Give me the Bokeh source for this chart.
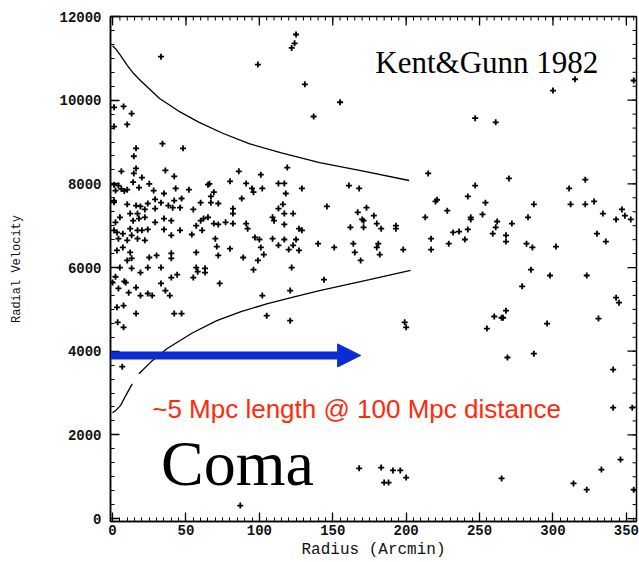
import math
from bokeh.plotting import figure
from bokeh.models import Range1d, FixedTicker, Arrow, NormalHead, Label
from bokeh.embed import file_html
from bokeh.resources import INLINE

# ---------------- data (radius in arcmin, radial velocity in km/s) ----------------
r_top = [33, 99, 125, 124, 122, 131, 137, 155, 247, 261, 300, 315, 355]
v_top = [11040, 10850, 11570, 11360, 11250, 10380, 9610, 9950, 9570, 9470, 10230, 10500, 10470]

r_b = [1, 7.5, 13, 10, 1, 34, 48, 16, 14.5, 16, 6, 14.5, 36, 42, 86, 101, 119]
v_b = [9830, 9850, 9680, 9420, 9370, 8960, 8850, 8850, 8660, 8370, 8300, 8250, 8320, 8180, 8300, 8220, 8390]

r_c = [1, 14, 20, 4, 10, 18, 25, 2, 28, 35, 43, 52, 65, 66, 80, 91, 95, 96, 102, 113, 117, 118, 129, 69, 67]
v_c = [7980, 8040, 8150, 7960, 7860, 7910, 8000, 7840, 7840, 7770, 7890, 7860, 7980, 8000, 8060, 8010, 7890, 7800,
       7890, 8010, 8010, 7770, 7890, 7800, 7700]

r_d = [60, 42, 47, 38, 33, 29, 24, 19, 16, 10, 1, 1, 88, 6, 8]
v_d = [7550, 7600, 7650, 7480, 7550, 7630, 7530, 7460, 7480, 7510, 7600, 7560, 7650, 7880, 7830]

r_e = [12, 17, 22, 29, 41, 46, 55, 67, 72, 82, 82, 109, 110, 113, 116, 117, 123]
v_e = [7290, 7290, 7390, 7410, 7430, 7430, 7390, 7550, 7530, 7410, 7290, 7200, 7120, 7410, 7510, 7290, 7290]

r_f = [2, 5, 14, 18, 22, 29, 35, 40, 60, 62, 65, 69, 72, 57, 61, 77, 82, 91, 92, 129, 117, 127]
v_f = [7080, 7200, 7120, 7170, 7200, 7080, 7170, 7120, 7120, 7170, 7200, 7050, 7030, 7000, 6890, 7080, 7050, 7050,
       6930, 6890, 7030, 6930]

r_g = [1, 3, 7, 12, 17, 20, 24, 46, 35, 13, 17, 10, 4, 22, 40, 54, 70, 97, 100, 109, 117, 125, 140]
v_g = [6890, 6840, 6810, 6930, 6890, 6890, 6910, 6890, 6910, 6770, 6690, 6650, 6690, 6650, 6770, 6790, 6690, 6720,
       6670, 6690, 6670, 6670, 6570]

r_h = [3, 7, 12, 71, 80, 113, 123, 127, 101, 103, 99, 89, 72, 57, 40, 40, 30, 25, 13, 10, 120]
v_h = [6410, 6480, 6360, 6500, 6450, 6530, 6530, 6410, 6480, 6310, 6170, 6240, 6290, 6360, 6340, 6220, 6290, 6240,
       6220, 6170, 6430]

r_i = [5, 13, 19, 24, 33, 57, 58, 96, 122, 55, 40, 63, 63, 44, 8, 16, 2, 0, 9, 33, 73, 144]
v_i = [6000, 5980, 5880, 6000, 6000, 6000, 5900, 5950, 6000, 5760, 5760, 5980, 5880, 5830, 5670, 5520, 5780, 5640,
       5640, 5620, 5620, 5710]

r_j = [4, 11, 19, 24, 27, 36, 39, 42, 47, 16, 3, 7.5, 3.5, 7.5, 6.6, 102, 105, 121, 121, 87]
v_j = [5500, 5400, 5330, 5380, 5330, 5450, 5330, 4900, 4900, 4900, 5050, 5090, 4690, 4570, 3630, 5330, 4850, 5450,
       4730, 310]

r_k = [215, 270, 322, 161, 168, 247, 311, 242, 220, 221, 254, 287, 312, 322, 328, 146, 167, 173, 228, 347]
v_k = [8250, 8130, 8100, 7960, 7890, 7960, 7890, 7700, 7580, 7620, 7550, 7510, 7510, 7510, 7580, 7460, 7320, 7430,
       7360, 7390]

r_l = [170, 171, 178, 213, 244, 244, 252, 334, 349, 343, 353, 162, 171, 180, 183, 193, 193, 262, 272, 283, 261]
v_l = [7150, 7120, 7240, 7200, 7200, 7150, 7270, 7290, 7240, 7150, 7150, 6960, 6960, 7050, 6930, 7000, 6930, 7100,
       7050, 7200, 6960]

r_m = [232, 236, 242, 259, 268, 330, 240, 268, 217, 217, 229, 151, 164, 165, 180, 181, 182, 198, 169, 282, 286, 302, 336]
v_m = [6840, 6860, 6910, 6810, 6770, 6810, 6670, 6620, 6690, 6430, 6570, 6480, 6570, 6360, 6480, 6570, 6310, 6430,
       6170, 6570, 6480, 6500, 6620]

r_n = [285, 298, 323, 279, 343, 345, 199, 200, 255, 260, 265, 266, 268, 296, 331, 269, 287, 341, 341, 354,
       168, 183, 185, 188, 191, 196, 200, 265, 314, 323, 333, 346, 355]
v_n = [5950, 5810, 5810, 5550, 5280, 5160, 4690, 4570, 4540, 4830, 4800, 4800, 4970, 4660, 4780, 3850, 3940, 3560,
       2650, 2650, 1200, 1220, 860, 860, 1150, 1150, 980, 960, 840, 690, 1170, 1410, 690]

radius = r_top + r_b + r_c + r_d + r_e + r_f + r_g + r_h + r_i + r_j + r_k + r_l + r_m + r_n
velocity = v_top + v_b + v_c + v_d + v_e + v_f + v_g + v_h + v_i + v_j + v_k + v_l + v_m + v_n

# caustic envelope curves
upper_r = [0, 2, 5.4, 10, 14.5, 19, 32, 45, 59, 75, 93, 115, 141, 170, 202]
upper_v = [11300, 11230, 11070, 10830, 10630, 10470, 10040, 9740, 9470, 9210, 8960, 8740, 8510, 8310, 8080]
lower1_r = [0, 2, 5.4, 9, 13.4]
lower1_v = [2530, 2580, 2700, 2940, 3220]
lower2_r = [18, 26, 37, 54, 71, 88, 105, 123, 141, 175, 203]
lower2_v = [3460, 3740, 4060, 4430, 4730, 4950, 5130, 5290, 5450, 5710, 5930]

x_ticks = [0, 50, 100, 150, 200, 250, 300, 350]
x_minor = [i * 5 for i in range(0, 72)]
y_ticks = [0, 2000, 4000, 6000, 8000, 10000, 12000]
y_minor = [i * 1000 / 3 for i in range(0, 37)]

arrow_v = 3900
arrow_r_end = 169

X0, X1 = -1.4, 356.9
Y0, Y1 = -70, 12000

# ---------------- figure ----------------
p = figure(width=639, height=562, output_backend="svg", toolbar_location=None,
           x_range=Range1d(X0, X1), y_range=Range1d(Y0, Y1),
           min_border_left=110, min_border_right=3, min_border_top=16, min_border_bottom=41,
           background_fill_color="white", border_fill_color="white")
p.grid.visible = False
p.outline_line_color = "black"
p.outline_line_width = 1.5

tick_font = "Liberation Mono"

for ax, tk, mn in ((p.xaxis[0], x_ticks, x_minor), (p.yaxis[0], y_ticks, y_minor)):
    ax.ticker = FixedTicker(ticks=tk, minor_ticks=mn)
    ax.axis_line_width = 1.5
    ax.axis_line_color = "black"
    ax.major_tick_in = 9
    ax.major_tick_out = 0
    ax.minor_tick_in = 4
    ax.minor_tick_out = 0
    ax.major_tick_line_width = 1.3
    ax.minor_tick_line_width = 1
    ax.major_tick_line_color = "black"
    ax.minor_tick_line_color = "black"
    ax.major_label_text_font = tick_font
    ax.major_label_text_font_style = "bold"
    ax.major_label_text_font_size = "14px"
    ax.major_label_text_color = "#111111"

p.xaxis.axis_label = "Radius (Arcmin)"
p.xaxis.axis_label_text_font = tick_font
p.xaxis.axis_label_text_font_size = "16px"
p.xaxis.axis_label_text_font_style = "normal"
p.xaxis.axis_label_text_color = "#111111"
p.xaxis.axis_label_standoff = 3
p.xaxis.major_label_standoff = 3
p.yaxis.axis_label = "Radial Velocity"
p.yaxis.axis_label_text_font = tick_font
p.yaxis.axis_label_text_font_size = "12px"
p.yaxis.axis_label_text_font_style = "normal"
p.yaxis.axis_label_text_color = "#111111"
p.yaxis.axis_label_standoff = 32
p.yaxis.major_label_standoff = 9

# mirrored tick marks on the top and right frame edges
p.ray(x=x_ticks, y=[Y1] * len(x_ticks), length=9, length_units="screen", angle=-math.pi / 2,
      line_color="black", line_width=1.3)
p.ray(x=x_minor, y=[Y1] * len(x_minor), length=4, length_units="screen", angle=-math.pi / 2,
      line_color="black", line_width=1)
p.ray(x=[X1] * len(y_ticks), y=y_ticks, length=9, length_units="screen", angle=math.pi,
      line_color="black", line_width=1.3)
p.ray(x=[X1] * len(y_minor), y=y_minor, length=4, length_units="screen", angle=math.pi,
      line_color="black", line_width=1)

# envelope curves
p.line(upper_r, upper_v, line_color="black", line_width=1.3)
p.line(lower1_r, lower1_v, line_color="black", line_width=1.3)
p.line(lower2_r, lower2_v, line_color="black", line_width=1.3)

# galaxies
p.scatter(radius, velocity, marker="cross", size=6, line_width=1.8, line_color="black")

# blue arrow
blue = "#0b2bd4"
p.add_layout(Arrow(x_start=X0, y_start=arrow_v, x_end=arrow_r_end, y_end=arrow_v,
                   line_color=blue, line_width=8,
                   end=NormalHead(size=23, fill_color=blue, line_color=blue, line_width=1)))

# texts
p.add_layout(Label(x=179, y=10900, text="Kent&Gunn 1982", text_font="Liberation Serif",
                   text_font_size="31px", text_color="black", text_baseline="alphabetic"))
p.add_layout(Label(x=27, y=2620, text="~5 Mpc length @ 100 Mpc distance", text_font="Liberation Sans",
                   text_font_size="26px", text_color="#ff2a0a", text_baseline="alphabetic"))
p.add_layout(Label(x=33, y=1310, text="Coma", text_font="Liberation Serif",
                   text_font_size="64px", text_color="black", text_baseline="alphabetic"))

open("out.html", "w").write(file_html(p, INLINE))
